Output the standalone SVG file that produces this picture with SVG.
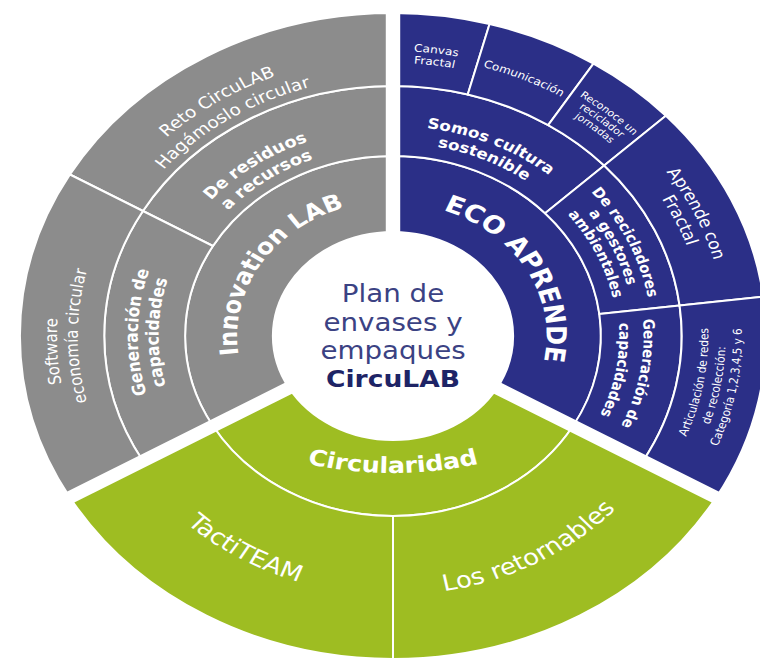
<svg xmlns="http://www.w3.org/2000/svg" width="760" height="659" viewBox="0 0 760 659">
<style>
.cell{stroke:#fff;stroke-width:2;vector-effect:non-scaling-stroke;stroke-linejoin:round}
.g{fill:#8c8c8c}.b{fill:#2b2f87}.v{fill:#9ebd22}
text{font-family:"DejaVu Sans","Liberation Sans",sans-serif;fill:#fff;text-anchor:middle}
.bd{font-weight:bold}
.ctr{fill:#3b4283}
.ctrb{fill:#1e2466;font-weight:bold}
.gap{stroke:#fff;stroke-width:12.5;fill:none}
</style>
<defs>
<path id="pInnov" d="M -119.20 63.38 A 135 135 0 0 1 4.71 -134.92"/>
<path id="pEco" d="M 0 -133 A 133 133 0 0 1 115.18 66.5"/>
<path id="pCirc" d="M -160 90.77 A 300 300 0 0 0 160 90.77"/>
<path id="pTacti" d="M -255.81 40.52 A 259 259 0 0 0 84.32 244.89"/>
<path id="pRetor" d="M -92.82 241.80 A 259 259 0 0 0 254.24 49.42"/>
<path id="pRes1" d="M -207.21 -18.13 A 208 208 0 0 1 53.83 -200.91"/>
<path id="pRes2" d="M -189.28 -16.56 A 190 190 0 0 1 49.18 -183.53"/>
<path id="pReto1" d="M -276.92 -34.00 A 279 279 0 0 1 81.57 -266.81"/>
<path id="pReto2" d="M -257.07 -31.56 A 259 259 0 0 1 75.72 -247.68"/>
<path id="pGenG1" d="M -144.99 166.79 A 221 221 0 0 1 -139.08 -171.75"/>
<path id="pGenG2" d="M -133.18 153.21 A 203 203 0 0 1 -127.75 -157.76"/>
<path id="pSoft1" d="M -175.13 232.40 A 291 291 0 0 1 -198.46 -212.82"/>
<path id="pSoft2" d="M -175.48 209.13 A 273 273 0 0 1 -175.48 -209.13"/>
<path id="pSomos1" d="M -92.06 -188.75 A 210 210 0 0 1 201.87 -57.88"/>
<path id="pSomos2" d="M -84.61 -173.47 A 193 193 0 0 1 185.52 -53.20"/>
<path id="pRec1" d="M 57.98 -216.37 A 224 224 0 0 1 203.01 94.67"/>
<path id="pRec2" d="M 54.09 -201.88 A 209 209 0 0 1 189.42 88.33"/>
<path id="pRec3" d="M 50.21 -187.39 A 194 194 0 0 1 175.82 81.99"/>
<path id="pGenB1" d="M 166.23 -139.49 A 217 217 0 0 1 108.5 187.93"/>
<path id="pGenB2" d="M 150.14 -125.99 A 196 196 0 0 1 98 169.74"/>
<path id="pCan1" d="M -153.13 -240.37 A 285 285 0 0 1 210.12 -192.54"/>
<path id="pCan2" d="M -146.68 -230.25 A 273 273 0 0 1 201.28 -184.44"/>
<path id="pCom" d="M -78.35 -268.81 A 280 280 0 0 1 251.12 -123.84"/>
<path id="pRcn1" d="M 0 -289 A 289 289 0 0 1 284.61 -50.18"/>
<path id="pRcn2" d="M 0 -279 A 279 279 0 0 1 274.76 -48.45"/>
<path id="pRcn3" d="M 0 -269 A 269 269 0 0 1 264.91 -46.71"/>
<path id="pApr1" d="M 74.54 -278.19 A 288 288 0 0 1 261.02 121.71"/>
<path id="pApr2" d="M 69.88 -260.80 A 270 270 0 0 1 244.70 114.11"/>
<path id="pArt1" d="M 136.5 236.42 A 273 273 0 0 0 209.13 -175.48"/>
<path id="pArt2" d="M 144 249.42 A 288 288 0 0 0 220.62 -185.12"/>
<path id="pArt3" d="M 151 261.54 A 302 302 0 0 0 231.35 -194.12"/>
</defs>
<rect width="760" height="659" fill="#fff"/>
<g transform="translate(393,336) scale(1.155,1)">
<g id="innovation-lab">
<path class="cell g" d="M -155.88 90 A 180 180 0 0 1 0 -180 L 0 -104 A 104 104 0 0 0 -90.07 52 Z"/>
<text class="bd" font-size="22"><textPath href="#pInnov" startOffset="50%">Innovation LAB</textPath></text>
</g>
<g id="de-residuos">
<path class="cell g" d="M -216.51 -125 A 250 250 0 0 1 0 -250 L 0 -180 A 180 180 0 0 0 -155.88 -90 Z"/>
<text class="bd" font-size="15.5"><textPath href="#pRes1" startOffset="50%">De residuos</textPath></text>
<text class="bd" font-size="15.5"><textPath href="#pRes2" startOffset="50%">a recursos</textPath></text>
</g>
<g id="generacion-innovation">
<path class="cell g" d="M -216.51 125 A 250 250 0 0 1 -216.51 -125 L -155.88 -90 A 180 180 0 0 0 -155.88 90 Z"/>
<text class="bd" font-size="15.5"><textPath href="#pGenG1" startOffset="50%">Generación de</textPath></text>
<text class="bd" font-size="15.5"><textPath href="#pGenG2" startOffset="50%">capacidades</textPath></text>
</g>
<g id="reto-circulab">
<path class="cell g" d="M -279.73 -161.5 A 323 323 0 0 1 0 -323 L 0 -250 A 250 250 0 0 0 -216.51 -125 Z"/>
<text font-size="16"><textPath href="#pReto1" startOffset="50%">Reto CircuLAB</textPath></text>
<text font-size="16"><textPath href="#pReto2" startOffset="50%">Hagámoslo circular</textPath></text>
</g>
<g id="software">
<path class="cell g" d="M -279.73 161.5 A 323 323 0 0 1 -279.73 -161.5 L -216.51 -125 A 250 250 0 0 0 -216.51 125 Z"/>
<text font-size="15"><textPath href="#pSoft1" startOffset="50%">Software</textPath></text>
<text font-size="15"><textPath href="#pSoft2" startOffset="50%">economía circular</textPath></text>
</g>
<g id="eco-aprende">
<path class="cell b" d="M 0 -180 A 180 180 0 0 1 155.88 90 L 90.07 52 A 104 104 0 0 0 0 -104 Z"/>
<text class="bd" font-size="24"><textPath href="#pEco" startOffset="50%">ECO APRENDE</textPath></text>
</g>
<g id="somos-cultura">
<path class="cell b" d="M 0 -250 A 250 250 0 0 1 182.84 -170.50 L 131.64 -122.76 A 180 180 0 0 0 0 -180 Z"/>
<text class="bd" font-size="14.5"><textPath href="#pSomos1" startOffset="50%">Somos cultura</textPath></text>
<text class="bd" font-size="14.5"><textPath href="#pSomos2" startOffset="50%">sostenible</textPath></text>
</g>
<g id="de-recicladores">
<path class="cell b" d="M 182.84 -170.50 A 250 250 0 0 1 248.14 -30.47 L 178.66 -21.94 A 180 180 0 0 0 131.64 -122.76 Z"/>
<text class="bd" font-size="13.5"><textPath href="#pRec1" startOffset="50%">De recicladores</textPath></text>
<text class="bd" font-size="13.5"><textPath href="#pRec2" startOffset="50%">a gestores</textPath></text>
<text class="bd" font-size="13.5"><textPath href="#pRec3" startOffset="50%">ambientales</textPath></text>
</g>
<g id="generacion-eco">
<path class="cell b" d="M 248.14 -30.47 A 250 250 0 0 1 216.51 125 L 155.88 90 A 180 180 0 0 0 178.66 -21.94 Z"/>
<text class="bd" font-size="13.5"><textPath href="#pGenB1" startOffset="50%">Generación de</textPath></text>
<text class="bd" font-size="13.5"><textPath href="#pGenB2" startOffset="50%">capacidades</textPath></text>
</g>
<g id="canvas-fractal">
<path class="cell b" d="M 0 -323 A 323 323 0 0 1 83.60 -312.00 L 64.70 -241.48 A 250 250 0 0 0 0 -250 Z"/>
<text font-size="10.5"><textPath href="#pCan1" startOffset="50%">Canvas</textPath></text>
<text font-size="10.5"><textPath href="#pCan2" startOffset="50%">Fractal</textPath></text>
</g>
<g id="comunicacion">
<path class="cell b" d="M 83.60 -312.00 A 323 323 0 0 1 173.55 -272.42 L 134.33 -210.85 A 250 250 0 0 0 64.70 -241.48 Z"/>
<text font-size="10.5"><textPath href="#pCom" startOffset="50%">Comunicación</textPath></text>
</g>
<g id="reconoce">
<path class="cell b" d="M 173.55 -272.42 A 323 323 0 0 1 236.23 -220.29 L 182.84 -170.50 A 250 250 0 0 0 134.33 -210.85 Z"/>
<text font-size="9.5"><textPath href="#pRcn1" startOffset="50%">Reconoce un</textPath></text>
<text font-size="9.5"><textPath href="#pRcn2" startOffset="50%">reciclador</textPath></text>
<text font-size="9.5"><textPath href="#pRcn3" startOffset="50%">jornadas</textPath></text>
</g>
<g id="aprende-fractal">
<path class="cell b" d="M 236.23 -220.29 A 323 323 0 0 1 320.59 -39.36 L 248.14 -30.47 A 250 250 0 0 0 182.84 -170.50 Z"/>
<text font-size="15.5"><textPath href="#pApr1" startOffset="50%">Aprende con</textPath></text>
<text font-size="15.5"><textPath href="#pApr2" startOffset="50%">Fractal</textPath></text>
</g>
<g id="articulacion">
<path class="cell b" d="M 320.59 -39.36 A 323 323 0 0 1 279.73 161.5 L 216.51 125 A 250 250 0 0 0 248.14 -30.47 Z"/>
<text font-size="10.5"><textPath href="#pArt1" startOffset="50%">Articulación de redes</textPath></text>
<text font-size="10.5"><textPath href="#pArt2" startOffset="50%">de recolección:</textPath></text>
<text font-size="10.5"><textPath href="#pArt3" startOffset="50%">Categoría 1,2,3,4,5 y 6</textPath></text>
</g>
<g id="circularidad">
<path class="cell v" d="M 155.88 90 A 180 180 0 0 1 -155.88 90 L -90.07 52 A 104 104 0 0 0 90.07 52 Z"/>
<text class="bd" font-size="22"><textPath href="#pCirc" startOffset="50%">Circularidad</textPath></text>
</g>
<g id="los-retornables">
<path class="cell v" d="M 279.73 161.5 A 323 323 0 0 1 0 323 L 0 180 A 180 180 0 0 0 155.88 90 Z"/>
<text font-size="22.5"><textPath href="#pRetor" startOffset="50%">Los retornables</textPath></text>
</g>
<g id="tactiteam">
<path class="cell v" d="M 0 323 A 323 323 0 0 1 -279.73 161.5 L -155.88 90 A 180 180 0 0 0 0 180 Z"/>
<text font-size="22.5"><textPath href="#pTacti" startOffset="50%">TactiTEAM</textPath></text>
</g>
<g id="gaps">
<line class="gap" x1="0" y1="-100" x2="0" y2="-345"/>
<line class="gap" x1="86.6" y1="50" x2="298.8" y2="172.5"/>
<line class="gap" x1="-86.6" y1="50" x2="-298.8" y2="172.5"/>
</g>
<g id="plan-circulab">
<circle r="102" fill="#fff"/>
<text class="ctr" y="-34" font-size="24">Plan de</text>
<text class="ctr" y="-5.5" font-size="24">envases y</text>
<text class="ctr" y="23" font-size="24">empaques</text>
<text class="ctrb" y="51.5" font-size="23">CircuLAB</text>
</g>
</g>
</svg>
